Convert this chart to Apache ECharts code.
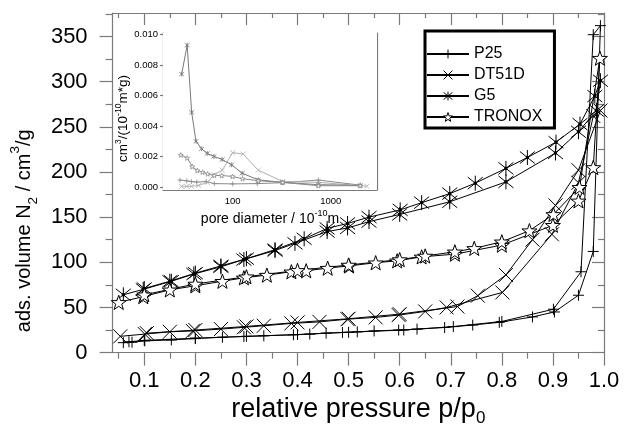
<!DOCTYPE html>
<html>
<head>
<meta charset="utf-8">
<script src="https://cdn.jsdelivr.net/npm/echarts@6/dist/echarts.min.js"></script>
<style>
html,body{margin:0;padding:0;background:#fff}
#chart{width:625px;height:432px}
</style>
</head>
<body>
<div id="chart"></div>
<script>
// isotherms: [p/p0, volume], adsorption up then desorption back down
var p25_ads = [[0.059,11],[0.076,11.5],[0.101,13],[0.153,14],[0.2,15.5],[0.253,17],[0.295,17.8],[0.334,18.6],[0.392,19.7],[0.424,20.5],[0.456,21.6],[0.488,22.3],[0.517,23],[0.55,24],[0.598,25],[0.634,26],[0.688,27.8],[0.743,30.5],[0.795,33.5],[0.86,39.5],[0.903,45],[0.95,63.5],[0.979,112],[0.993,362]];
var p25_des = [[0.979,352],[0.955,89.5],[0.901,48],[0.8,34.5],[0.705,28.8],[0.608,25],[0.5,22.5],[0.4,20],[0.3,18],[0.2,16],[0.1,13.5],[0.07,12]];
var dt_ads = [[0.053,18],[0.101,20.5],[0.15,23],[0.195,24],[0.25,26],[0.295,28],[0.334,29.7],[0.388,32.3],[0.443,34],[0.498,37],[0.553,39],[0.598,41.5],[0.65,45.6],[0.692,50],[0.801,66.6],[0.898,131],[0.95,188],[0.979,262],[0.993,268]];
var dt_des = [[0.95,202],[0.905,163],[0.86,125],[0.808,86],[0.753,63],[0.713,51],[0.6,42.6],[0.5,37.5],[0.4,33.4],[0.3,29],[0.2,25],[0.105,21.5]];
var g5_ads = [[0.059,64],[0.098,70],[0.153,79],[0.197,87],[0.25,95],[0.295,103],[0.356,113],[0.395,121],[0.458,134],[0.498,138],[0.54,145],[0.6,153],[0.698,167],[0.808,189],[0.905,221],[0.95,244.5],[0.985,268],[0.993,301]];
var g5_des = [[0.982,284],[0.953,253],[0.906,233],[0.85,216],[0.808,204],[0.748,187.6],[0.698,176],[0.643,166],[0.601,158],[0.54,150],[0.498,143],[0.458,137.5],[0.413,126],[0.356,114],[0.3,104],[0.25,96],[0.2,88],[0.15,79],[0.1,71]];
var tr_ads = [[0.05,55.6],[0.098,62],[0.15,69.5],[0.2,74],[0.253,79],[0.295,82.8],[0.34,85.8],[0.388,89.5],[0.417,90.6],[0.459,93.5],[0.501,96],[0.553,99.5],[0.595,101.6],[0.643,106],[0.708,109],[0.8,119],[0.9,141],[0.95,168],[0.979,205],[0.992,326]];
var tr_des = [[0.952,183],[0.901,153],[0.854,135],[0.8,122.7],[0.746,115.4],[0.708,111.6],[0.65,107],[0.6,103],[0.5,97],[0.4,91],[0.3,84],[0.2,76],[0.1,64]];

// inset: pore size distribution [diameter, cm3/(1e-10 m g)]
var g5_psd = [[30.2,0.0074],[34.4,0.0093],[38.2,0.0049],[42.3,0.0030],[48.3,0.0025],[55.1,0.0022],[64.4,0.0020],[78.3,0.0018],[97.7,0.00145],[125,0.0009],[182,0.00047],[323,0.0003],[748,0.00015],[1995,0.0001]];
var tr_psd = [[29.6,0.0021],[34.4,0.0019],[38.7,0.00134],[43.6,0.00108],[49.4,0.00097],[55.6,0.00086],[64.9,0.00075],[77.3,0.00075],[100,0.00069],[126,0.00054],[182,0.00041],[323,0.0003],[748,0.00008],[1995,0.00008]];
var dt_psd = [[30,0.00004],[34,0.00004],[38,0.00004],[45,0.0001],[55,0.0003],[64.4,0.0008],[78.3,0.0011],[100,0.00225],[128,0.00216],[182,0.0011],[323,0.00036],[748,0.0003],[2330,0.00005]];
var p25_psd = [[29,0.00045],[34,0.0004],[38,0.00035],[43,0.00032],[54,0.00035],[65,0.00022],[100,0.0002],[178,0.00022],[323,0.00028],[748,0.00045],[1995,0.00012]];

var names = ['P25', 'DT51D', 'G5', 'TRONOX'];
var pMajor = [0.1,0.2,0.3,0.4,0.5,0.6,0.7,0.8,0.9,1.0];
var pMinor = [0.05,0.15,0.25,0.35,0.45,0.55,0.65,0.75,0.85,0.95];
var vMajor = [0,50,100,150,200,250,300,350];
var vMinor = [25,75,125,175,225,275,325,375];
var dMajor = [100,1000];
var dMinor = [30,40,50,60,70,80,90,100,200,300,400,500,600,700,800,900,1000,2000];
var insetMajor = [0,0.002,0.004,0.006,0.008,0.010];
var insetMinor = [0.001,0.003,0.005,0.007,0.009];

var SYM_PLUS = 'path://M0,-1L0,1M-1,0L1,0';
var SYM_CROSS = 'path://M-1,-1L1,1M-1,1L1,-1';
var SYM_AST = 'path://M0,-1L0,1M-1,-0.8L1,0.8M-1,0.8L1,-0.8M-0.15,-0.15L0.15,-0.15L0.15,0.15L-0.15,0.15Z';
var SYM_STAR = 'path://M0,-1L0.235,-0.324L0.951,-0.309L0.38,0.124L0.588,0.809L0,0.4L-0.588,0.809L-0.38,0.124L-0.951,-0.309L-0.235,-0.324Z';

var AX = '#7a7a7a';
var FONT = 'Liberation Sans, Arial, sans-serif';

function tickAxis(base, vals, len, inside, line) {
    return Object.assign({
        axisLine: { show: line, onZero: false, lineStyle: { color: AX, width: 1.2 } },
        axisTick: { show: true, inside: inside, length: len, customValues: vals, lineStyle: { color: AX, width: 1.2 } },
        axisLabel: { show: false },
        splitLine: { show: false }
    }, base);
}

var pRange = { type: 'value', min: 0.038, max: 1.0, gridIndex: 0 };
var vRange = { type: 'value', min: 0, max: 376, gridIndex: 0 };
var dRange = { type: 'log', logBase: 10, min: 19.5, max: 2960, gridIndex: 1 };
var iRange = { type: 'value', min: -0.0002, max: 0.0101, gridIndex: 1 };

var xMain = tickAxis(Object.assign({ position: 'bottom' }, pRange), pMajor, 13, false, true);
xMain.axisLabel = { show: true, customValues: pMajor, margin: 17, fontSize: 22, color: '#000', fontFamily: FONT,
    formatter: function (v) { return v.toFixed(1); } };
xMain.name = '{a|relative pressure p/p}{b|0}';
xMain.nameLocation = 'middle';
xMain.nameGap = 40;
xMain.nameTextStyle = { rich: {
    a: { fontSize: 27, fontFamily: FONT, color: '#000', lineHeight: 34 },
    b: { fontSize: 17, fontFamily: FONT, color: '#000', verticalAlign: 'bottom', lineHeight: 34 }
} };

var yMain = tickAxis(Object.assign({ position: 'left' }, vRange), vMajor, 13, false, true);
yMain.axisLabel = { show: true, customValues: vMajor, margin: 25, fontSize: 22, color: '#000', fontFamily: FONT };
yMain.name = '{a|ads. volume N}{b|2}{a| / cm}{c|3}{a|/g}';
yMain.nameLocation = 'middle';
yMain.nameGap = 43;
yMain.nameTextStyle = { padding: [0, 96, 0, 0], rich: {
    a: { fontSize: 20, fontFamily: FONT, color: '#000', lineHeight: 32 },
    b: { fontSize: 13.5, fontFamily: FONT, color: '#000', verticalAlign: 'bottom', lineHeight: 32 },
    c: { fontSize: 13.5, fontFamily: FONT, color: '#000', verticalAlign: 'top', lineHeight: 32 }
} };

var xInset = tickAxis(Object.assign({ position: 'bottom' }, dRange), dMajor, 3, true, true);
xInset.axisLabel = { show: true, customValues: dMajor, margin: 6, fontSize: 9.5, color: '#000', fontFamily: FONT,
    formatter: function (v) { return String(Math.round(v)); } };
xInset.name = '{a|pore diameter / 10}{c|-10}{a|m}';
xInset.nameLocation = 'middle';
xInset.nameGap = 19;
xInset.nameTextStyle = { rich: {
    a: { fontSize: 14, fontFamily: FONT, color: '#000', lineHeight: 20 },
    c: { fontSize: 9, fontFamily: FONT, color: '#000', verticalAlign: 'top', lineHeight: 20 }
} };

var yInset = tickAxis(Object.assign({ position: 'left' }, iRange), insetMajor, 3, false, true);
yInset.axisLabel = { show: true, customValues: insetMajor, margin: 5, fontSize: 9.5, color: '#000', fontFamily: FONT,
    formatter: function (v) { return v.toFixed(3); } };
yInset.name = '{a|cm}{c|3}{a|/(10}{c|-10}{a|m*g)}';
yInset.nameLocation = 'middle';
yInset.nameGap = 30;
yInset.nameTextStyle = { padding: [0, 14, 0, 0], rich: {
    a: { fontSize: 13.5, fontFamily: FONT, color: '#000', lineHeight: 18 },
    c: { fontSize: 8.5, fontFamily: FONT, color: '#000', verticalAlign: 'top', lineHeight: 18 }
} };

var xAxes = [
    xMain,
    tickAxis(Object.assign({ position: 'bottom' }, pRange), pMinor, 6, false, false),
    tickAxis(Object.assign({ position: 'top' }, pRange), pMajor, 12, true, true),
    tickAxis(Object.assign({ position: 'top' }, pRange), pMinor, 5, true, false),
    xInset,
    tickAxis(Object.assign({ position: 'top' }, dRange), dMinor, 2.5, true, true)
];
var yAxes = [
    yMain,
    tickAxis(Object.assign({ position: 'left' }, vRange), vMinor, 7, false, false),
    tickAxis(Object.assign({ position: 'right' }, vRange), vMajor, 12, true, true),
    tickAxis(Object.assign({ position: 'right' }, vRange), vMinor, 6, true, false),
    yInset,
    tickAxis(Object.assign({ position: 'right' }, iRange), insetMajor.concat(insetMinor), 3, true, true)
];

var mainSets = [
    { name: 'P25', data: p25_ads.concat(p25_des), symbol: SYM_PLUS, size: 11, fill: '#000' },
    { name: 'DT51D', data: dt_ads.concat(dt_des), symbol: SYM_CROSS, size: 14, fill: '#000' },
    { name: 'G5', data: g5_ads.concat(g5_des), symbol: SYM_AST, size: 15, fill: '#000' },
    { name: 'TRONOX', data: tr_ads.concat(tr_des), symbol: SYM_STAR, size: 15, fill: '#fff' }
];
var insetSets = [
    { data: p25_psd, symbol: SYM_PLUS, color: '#8a8a8a', fill: '#8a8a8a' },
    { data: dt_psd, symbol: SYM_CROSS, color: '#b0b0b0', fill: '#b0b0b0' },
    { data: g5_psd, symbol: SYM_AST, color: '#7a7a7a', fill: '#7a7a7a' },
    { data: tr_psd, symbol: SYM_STAR, color: '#8a8a8a', fill: '#fff' }
];

var series = mainSets.map(function (s) {
    return {
        name: s.name, type: 'line', xAxisIndex: 0, yAxisIndex: 0,
        data: s.data, symbol: s.symbol, symbolSize: s.size, symbolKeepAspect: true,
        showAllSymbol: true, color: '#000',
        lineStyle: { color: '#000', width: 1 },
        itemStyle: { color: s.fill, borderColor: '#000', borderWidth: 1 },
        emphasis: { disabled: true }, z: 3
    };
}).concat(insetSets.map(function (s, i) {
    return {
        name: 'psd' + i, type: 'line', xAxisIndex: 4, yAxisIndex: 4,
        data: s.data, symbol: s.symbol, symbolSize: 5, symbolKeepAspect: true,
        showAllSymbol: true, color: s.color,
        lineStyle: { color: s.color, width: 1 },
        itemStyle: { color: s.fill, borderColor: s.color, borderWidth: 0.8 },
        emphasis: { disabled: true }, z: 3
    };
}));

var legendData = mainSets.map(function (s) {
    return { name: s.name, itemStyle: { color: s.fill, borderColor: '#000', borderWidth: 1 } };
});

var chart = echarts.init(document.getElementById('chart'), null, { renderer: 'canvas' });
chart.setOption({
    animation: false,
    backgroundColor: '#fff',
    grid: [
        { left: 108, right: 21, top: 13, bottom: 78.5 },
        { left: 163, width: 214, top: 33, height: 157, show: true, backgroundColor: '#fff', borderWidth: 0, z: 2 }
    ],
    legend: {
        data: legendData, orient: 'vertical', left: 425, top: 31,
        padding: [15, 12, 3, 1], itemGap: 5, itemWidth: 42, itemHeight: 11,
        borderColor: '#000', borderWidth: 3, backgroundColor: '#fff',
        textStyle: { fontSize: 16, color: '#000', fontFamily: FONT },
        selectedMode: false
    },
    xAxis: xAxes,
    yAxis: yAxes,
    series: series
});
</script>
</body>
</html>
